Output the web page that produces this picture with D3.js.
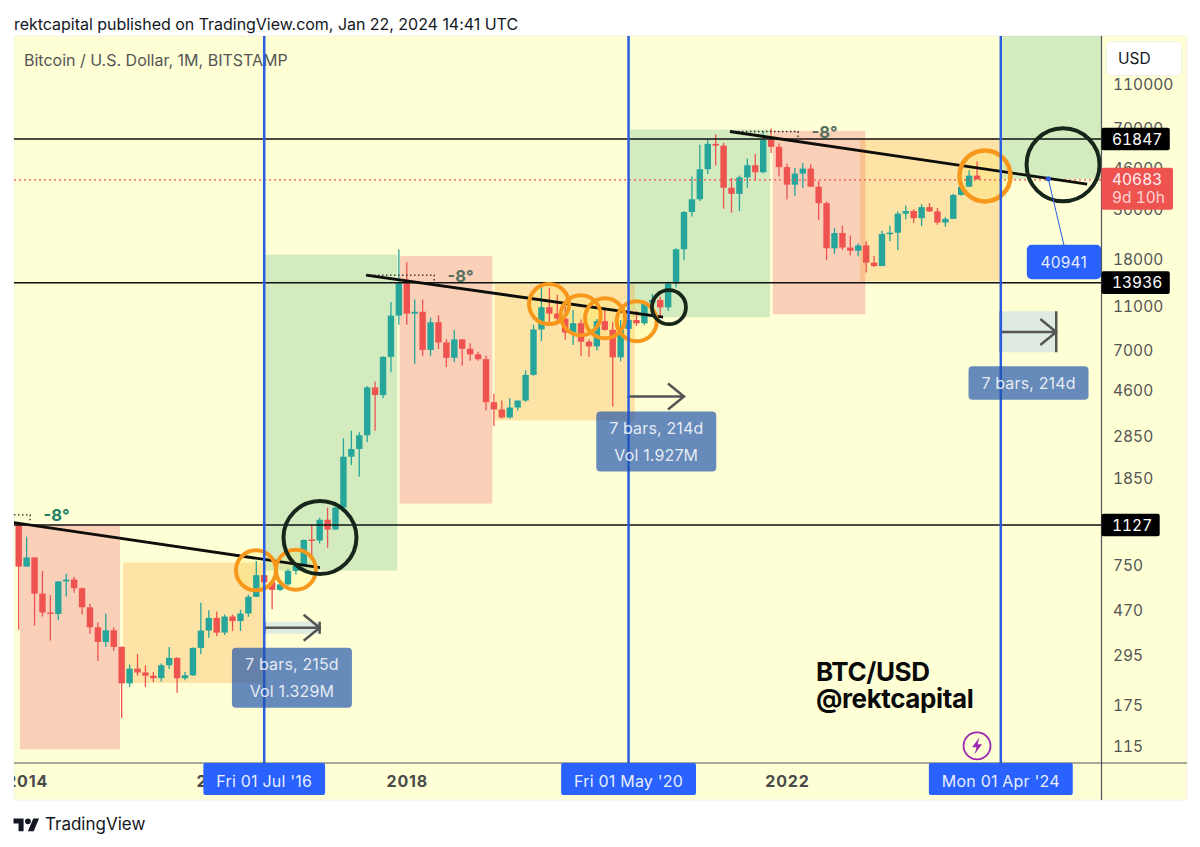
<!DOCTYPE html>
<html>
<head>
<meta charset="utf-8">
<script src="https://cdn.jsdelivr.net/npm/d3@7"></script>
<style>
  html, body { margin: 0; padding: 0; background: #fff; }
  svg { display: block; font-family: Inter, "Liberation Sans", sans-serif; }
</style>
</head>
<body>
<div id="main"></div>
<script>

// datas, one row per year, first bar is Dec 2013

const opens = [1127,
  732,805,553,455,448,628,640,585,480,390,335,378,
  318,218,254,244,236,230,263,284,230,237,315,377,
  430,369,436,416,450,535,670,622,575,609,700,740,
  970,960,1190,1075,1350,2290,2480,2860,4700,4340,6450,9900,
  13860,10100,10300,6930,9240,7490,6390,7730,7020,6620,6300,4030,
  3740,3440,3815,4100,5350,8570,10800,10100,9600,8300,9150,7550,
  7190,9350,8540,6420,8620,9450,9140,11340,11650,10780,13800,19700,
  29000,33100,45200,58800,57700,37300,35000,41500,47100,43800,61300,57000,
  46200,38500,43200,45500,37700,31800,19900,23300,20050,19400,20500,17150,
  16550,23100,23400,28500,29300,27200,30500,29200,26000,27000,34600,37700,
  42300];

const highs = [1163,
  999,805,700,545,628,680,659,590,498,410,450,390,
  320,265,296,263,245,268,318,286,245,316,503,465,
  460,445,445,468,547,775,700,625,612,715,745,970,
  1130,1215,1350,1360,2770,3000,2950,4750,5000,6500,11400,19666,
  17200,11700,11700,9700,9950,7750,8500,7760,7430,6800,6550,4400,
  4100,4200,4100,5610,9000,13880,13200,12300,10900,10500,9500,7750,
  9550,10500,9250,9450,10050,10400,11400,12400,12050,14100,19900,29300,
  41900,58300,61800,64900,59500,41300,42400,50500,52900,66900,69000,59000,
  47900,45800,48200,47500,40000,32300,24600,25200,22700,20900,21400,18400,
  23900,25200,29200,31000,29800,31400,31800,30200,27500,35000,38000,44700,
  49000];

const lows = [380,
  732,397,436,340,420,537,558,445,365,275,318,306,
  152,210,236,210,221,222,253,198,225,235,295,350,
  355,360,375,375,435,535,580,470,568,600,675,735,
  800,930,890,1070,1340,2100,1860,2660,3000,4200,5500,9000,
  9000,6000,6500,6500,7000,5800,6100,5900,6200,6200,3700,3150,
  3400,3400,3700,4050,5300,7600,9100,9300,7700,7300,6500,6450,
  6900,8450,3850,6150,8100,8900,8950,10500,9850,10400,13250,17600,
  27700,32500,43000,47000,30000,28800,29300,37300,40000,43300,53500,41900,
  33000,34300,37200,37600,26700,17600,18800,19600,18500,18300,15500,16400,
  16500,21400,19500,26900,25800,25000,29000,25400,24900,27000,34400,37600,
  40500];

const closes = [732,
  805,553,455,448,628,640,585,480,390,335,378,318,
  218,254,244,236,230,263,284,230,237,315,377,430,
  369,436,416,450,535,670,622,575,609,700,740,965,
  960,1190,1075,1350,2290,2480,2860,4700,4340,6450,9900,13860,
  10100,10300,6930,9240,7490,6390,7730,7020,6620,6300,4030,3740,
  3440,3815,4100,5350,8570,10800,10100,9600,8300,9150,7550,7190,
  9350,8540,6420,8620,9450,9140,11340,11650,10780,13800,19700,29000,
  33100,45200,58800,57700,37300,35000,41500,47100,43800,61300,57000,46200,
  38500,43200,45500,37700,31800,19900,23300,20050,19400,20500,17150,16550,
  23100,23400,28500,29300,27200,30500,29200,26000,27000,34600,37700,42300,
  40683];

const yearBars = [1, 25, 49, 97];
const yearLabels = ['2014', '2016', '2018', '2022'];
const priceTicks = [115, 175, 295, 470, 750, 1127, 1850, 2850, 4600, 7000, 11000, 18000, 30000, 46000, 70000, 110000];

const levels = [61847, 13936, 1127];
const lastPrice = 40683;
const lastCountdown = '9d 10h';

const dateBars = [31, 77, 124];
const dateLabels = ["Fri 01 Jul '16", "Fri 01 May '20", "Mon 01 Apr '24"];

// zones: [first bar, last bar, top price, bottom price]
const redZones = [[0.16, 12.8, 1127, 110], [48.1, 59.8, 18360, 1408], [95.2, 106.9, 67300, 10040]];
const orangeZones = [[13.17, 31, 763, 219], [60.1, 77.8, 13720, 3337], [106.2, 123.9, 61960, 14150]];
const greenZones = [[31.1, 47.8, 18630, 702], [77.2, 94.86, 68200, 9737], [124.2, 140, 200000, 40840]];

// trend lines: [start bar, start price, end bar, end price]
const trendLines = [[-7.16, 1251, 38.04, 724], [43.85, 15060, 81.35, 9737], [89.8, 66850, 134.9, 38760]];
const angleLabel = '-8°';
const angleBars = 8.6;

// circles: [bar, price]
const orangeCircles = [[29.96, 704], [35, 709], [66.96, 11150], [70.96, 9940], [74.03, 9636], [78.03, 9340]];
const orangeBigCircles = [[122, 42180]];
const blackCircles = [[38.04, 989], [131.86, 47300]];
const blackSmallCircles = [[82.1, 10800]];

// bars and price range measures
const measureStart = [31, 77, 124];
const measureBars = [7, 7, 7];
const measureMid = [388, 4280, 8356];
const measureTop = [413, 4325, 10360];
const measureBottom = [365, 4235, 6764];
const measureText = [['7 bars, 215d', 'Vol 1.329M'], ['7 bars, 214d', 'Vol 1.927M'], ['7 bars, 214d']];

const targetBar = 130;
const targetPrice = 40941;


const w = 1200;
const h = 847;

const plotL = 14;
const plotR = 1101.5;
const plotT = 36;
const plotB = 763;
const panelR = 1187;
const panelB = 800;

const svg = d3.select('#main').append('svg').attr('width', w).attr('height', h);

const x = d3.scaleLinear().domain([0, 124]).range([18.7, 1000.8]);
const y = d3.scaleLog().domain([115, 61847]).range([745, 139]);

const barIndex = opens.map((d, i) => i);

svg.append('clipPath').attr('id', 'plot')
  .append('rect').attr('x', plotL).attr('y', plotT).attr('width', plotR - plotL).attr('height', plotB - plotT);

// background

svg.append('text').attr('x', 14).attr('y', 30).attr('font-size', 16).attr('letter-spacing', -0.03).attr('fill', '#131722')
  .text('rektcapital published on TradingView.com, Jan 22, 2024 14:41 UTC');

svg.append('rect').attr('x', plotL).attr('y', plotT).attr('width', panelR - plotL).attr('height', panelB - plotT)
  .attr('fill', '#ffffd6').attr('stroke', '#f4f3e4');

// axes

const yAxis = d3.axisRight(y).tickValues(priceTicks).tickFormat(d => d).tickSize(0).tickPadding(11.5);
svg.append('g').attr('transform', `translate(${plotR},0)`).call(yAxis)
  .call(g => g.select('.domain').remove())
  .selectAll('text').attr('font-size', 15.5)
  .attr('font-family', 'Inter')
  .attr('dy', '0.4em').style('font-variant-numeric', 'tabular-nums').attr('fill', '#555');

const plot = svg.append('g').attr('clip-path', 'url(#plot)');

const zone = (list, color, alpha) => plot.append('g').selectAll('rect').data(list).enter().append('rect')
  .attr('x', d => x(d[0]))
  .attr('y', d => y(d[2]))
  .attr('width', d => x(d[1]) - x(d[0]))
  .attr('height', d => y(d[3]) - y(d[2]))
  .attr('fill', color)
  .attr('fill-opacity', alpha);

zone(redZones, 'rgb(239,67,98)', 0.25);
zone(greenZones, 'rgb(80,176,122)', 0.25);
zone(orangeZones, 'rgb(248,161,54)', 0.3);

plot.append('text').attr('x', 24).attr('y', 65.5).attr('font-size', 16).attr('fill', '#555')
  .text('Bitcoin / U.S. Dollar, 1M, BITSTAMP');

// circle fills go under the candles

const circleFills = (list, r) => plot.append('g').selectAll('circle').data(list).enter().append('circle')
  .attr('cx', d => x(d[0])).attr('cy', d => y(d[1])).attr('r', r)
  .attr('fill', 'rgba(255,235,59,0.18)');

circleFills(orangeCircles, 20);
circleFills(orangeBigCircles, 25.5);

// candles

const candleColor = i => closes[i] >= opens[i] ? '#26a69a' : '#ef5350';

plot.append('g').selectAll('line').data(barIndex).enter().append('line')
  .attr('x1', i => x(i)).attr('x2', i => x(i))
  .attr('y1', i => y(highs[i])).attr('y2', i => y(lows[i]))
  .attr('stroke', candleColor).attr('stroke-width', 1.3);

plot.append('g').selectAll('rect').data(barIndex).enter().append('rect')
  .attr('x', i => x(i) - 3.2)
  .attr('width', 6.4)
  .attr('y', i => y(Math.max(opens[i], closes[i])))
  .attr('height', i => Math.max(1.5, Math.abs(y(opens[i]) - y(closes[i]))))
  .attr('fill', candleColor);

// last price and horizontal levels

plot.append('line').attr('x1', plotL).attr('x2', plotR).attr('y1', y(lastPrice) + 0.5).attr('y2', y(lastPrice) + 0.5)
  .attr('stroke', '#f0524f').attr('stroke-width', 1.4).attr('stroke-dasharray', '2 3');

plot.append('g').selectAll('line').data(levels).enter().append('line')
  .attr('x1', plotL).attr('x2', plotR)
  .attr('y1', d => y(d)).attr('y2', d => y(d))
  .attr('stroke', '#111').attr('stroke-width', 1.5);

// trend lines with their angle

plot.append('g').selectAll('line').data(trendLines).enter().append('line')
  .attr('x1', d => x(d[0])).attr('y1', d => y(d[1]))
  .attr('x2', d => x(d[2])).attr('y2', d => y(d[3]))
  .attr('stroke', '#0d0d0a').attr('stroke-width', 2.8);

plot.append('g').selectAll('path').data(trendLines).enter().append('path')
  .attr('d', d => {
    const endX = x(d[0] + angleBars);
    return `M${x(d[0])},${y(d[1])}H${endX}v6`;
  })
  .attr('fill', 'none').attr('stroke', '#222').attr('stroke-width', 1.3).attr('stroke-dasharray', '1.5 2.5');

plot.append('g').selectAll('text').data(trendLines).enter().append('text')
  .attr('x', d => x(d[0] + angleBars) + 13.5)
  .attr('y', d => y(d[1]) + 6.5)
  .attr('font-size', 16.5).attr('font-weight', 700)
  .attr('fill', (d, i) => i === 0 ? '#1e8065' : '#55705f')
  .text(angleLabel);

// circles

const circles = (list, r, color, width) => plot.append('g').selectAll('circle').data(list).enter().append('circle')
  .attr('cx', d => x(d[0])).attr('cy', d => y(d[1])).attr('r', r)
  .attr('stroke', color).attr('stroke-width', width).attr('fill', 'none');

circles(orangeCircles, 20, '#f7981d', 4);
circles(orangeBigCircles, 25.5, '#f7981d', 4.5);
circles(blackCircles, 36.5, '#17261a', 4);
circles(blackSmallCircles, 17, '#17261a', 3.8);

// measures

const measures = plot.append('g').selectAll('g').data(measureStart).enter().append('g');

measures.append('rect')
  .attr('x', (d, i) => x(d))
  .attr('y', (d, i) => y(measureTop[i]))
  .attr('width', (d, i) => x(d + measureBars[i]) - x(d))
  .attr('height', (d, i) => y(measureBottom[i]) - y(measureTop[i]))
  .attr('fill', 'rgb(128,176,255)').attr('fill-opacity', 0.25);

measures.append('path')
  .attr('d', (d, i) => {
    const x0 = x(d);
    const x1 = x(d + measureBars[i]);
    const top = y(measureTop[i]);
    const bottom = y(measureBottom[i]);
    const mid = y(measureMid[i]);
    return `M${x0},${top}V${bottom}M${x0},${mid}H${x1}M${x1},${top}V${bottom}`
      + `M${x1 - 16},${mid - 13}L${x1},${mid}L${x1 - 16},${mid + 13}`;
  })
  .attr('fill', 'none').attr('stroke', '#555').attr('stroke-width', 2.5);

// blue date lines

plot.append('g').selectAll('line').data(dateBars).enter().append('line')
  .attr('x1', d => x(d)).attr('x2', d => x(d))
  .attr('y1', plotT).attr('y2', plotB)
  .attr('stroke', '#2a5ee0').attr('stroke-width', 2.5);

// measure labels stay above the blue lines

const measureLabels = svg.append('g').selectAll('g').data(measureStart).enter().append('g')
  .attr('transform', (d, i) => `translate(${x(d + measureBars[i] / 2)},${y(measureBottom[i]) + 14})`);

measureLabels.append('rect')
  .attr('x', -60).attr('width', 120)
  .attr('height', (d, i) => measureText[i].length === 2 ? 60 : 33.5)
  .attr('rx', 4)
  .attr('fill', 'rgba(30,83,171,0.68)');

measureLabels.selectAll('text').data((d, i) => measureText[i]).enter().append('text')
  .attr('text-anchor', 'middle')
  .attr('y', (d, i) => 22.5 + i * 27)
  .attr('font-size', 16).attr('letter-spacing', 0.15)
  .attr('fill', 'rgba(255,255,255,0.85)')
  .text(d => d);

// target price

const targetBox = svg.append('g');
targetBox.append('line')
  .attr('x1', x(targetBar)).attr('y1', y(targetPrice))
  .attr('x2', x(targetBar) + 16).attr('y2', y(targetPrice) + 68)
  .attr('stroke', '#2a5ee0').attr('stroke-width', 1);
targetBox.append('circle').attr('cx', x(targetBar)).attr('cy', y(targetPrice)).attr('r', 2.6).attr('fill', '#2a5ee0');
targetBox.append('rect')
  .attr('x', x(targetBar) - 21.5).attr('y', y(targetPrice) + 66)
  .attr('width', 74.5).attr('height', 34.5).attr('rx', 5).attr('fill', '#2962ff');
targetBox.append('text')
  .attr('x', x(targetBar) + 15.5).attr('y', y(targetPrice) + 89)
  .attr('text-anchor', 'middle').attr('font-size', 15.5).attr('letter-spacing', 0.2).attr('fill', 'rgba(255,255,255,0.9)')
  .text(targetPrice);

// signature

const signature = svg.append('g').attr('font-size', 26).attr('font-weight', 700).attr('fill', '#0a0a0a').attr('letter-spacing', -0.4);
signature.append('text').attr('x', 816).attr('y', 681).text('BTC/USD');
signature.append('text').attr('x', 816).attr('y', 708).text('@rektcapital');

// event marker

const marker = svg.append('g').attr('transform', `translate(${x(121)},${y(114)})`);
marker.append('circle').attr('r', 13.5).attr('fill', '#ffffd6').attr('stroke', '#9c27b0').attr('stroke-width', 1.8);
marker.append('path').attr('d', 'M2.5,-8.5L-5,1.5H-0.5L-2.5,8.5L5,-1.5H0.5Z').attr('fill', '#9c27b0');

// axis lines and time axis

svg.append('line').attr('x1', plotR).attr('x2', plotR).attr('y1', plotT).attr('y2', panelB).attr('stroke', '#50535e').attr('stroke-width', 1.2);
svg.append('line').attr('x1', plotL).attr('x2', panelR).attr('y1', plotB).attr('y2', plotB).attr('stroke', '#50535e').attr('stroke-width', 1.2);

svg.append('clipPath').attr('id', 'timeAxis')
  .append('rect').attr('x', plotL).attr('y', plotB).attr('width', plotR - plotL).attr('height', panelB - plotB);

const xAxis = d3.axisBottom(x).tickValues(yearBars).tickFormat((d, i) => yearLabels[i]).tickSize(0).tickPadding(13);
svg.append('g').attr('clip-path', 'url(#timeAxis)').append('g').attr('transform', `translate(0,${plotB})`).call(xAxis)
  .call(g => g.select('.domain').remove())
  .selectAll('text').attr('font-size', 16).attr('font-family', 'Inter').attr('font-weight', 700).attr('letter-spacing', 0.8).attr('fill', '#4a4a4a');

const dateTags = svg.append('g').selectAll('g').data(dateBars).enter().append('g');
const dateTagText = dateTags.append('text')
  .attr('x', d => x(d)).attr('y', 787)
  .attr('text-anchor', 'middle').attr('font-size', 16).attr('letter-spacing', 0.2).attr('fill', 'rgba(255,255,255,0.92)')
  .text((d, i) => dateLabels[i]);
dateTags.insert('rect', 'text')
  .attr('x', function (d) { return x(d) - this.parentNode.querySelector('text').getComputedTextLength() / 2 - 13; })
  .attr('width', function () { return this.parentNode.querySelector('text').getComputedTextLength() + 26; })
  .attr('y', plotB).attr('height', 32).attr('rx', 2).attr('fill', '#2962ff');

// price tags

const levelTags = svg.append('g').selectAll('g').data(levels).enter().append('g')
  .attr('transform', d => `translate(${plotR},${y(d)})`);
levelTags.append('text')
  .attr('x', 10.5).attr('y', 5.8).attr('font-size', 15.5).style('font-variant-numeric', 'tabular-nums').attr('fill', '#fff')
  .text(d => d);
levelTags.insert('rect', 'text')
  .attr('y', -11.3).attr('height', 22.6).attr('rx', 2).attr('fill', '#000')
  .attr('width', function () { return this.parentNode.querySelector('text').getComputedTextLength() + 18; });

const lastTag = svg.append('g').attr('transform', `translate(${plotR},${y(lastPrice) - 11.5})`).attr('font-size', 15.5).style('font-variant-numeric', 'tabular-nums');
lastTag.append('rect').attr('width', 71.5).attr('height', 42).attr('rx', 2).attr('fill', '#ef5350');
lastTag.append('text').attr('x', 10.5).attr('y', 17).attr('fill', 'rgba(255,255,255,0.92)').text(lastPrice);
lastTag.append('text').attr('x', 10.5).attr('y', 35).attr('fill', 'rgba(255,255,255,0.75)').text(lastCountdown);

// currency button

svg.append('rect').attr('x', 1106.5).attr('y', 41.5).attr('width', 75).attr('height', 34).attr('rx', 5)
  .attr('fill', '#fff').attr('stroke', '#f0f0e4');
svg.append('text').attr('x', 1118).attr('y', 64).attr('font-size', 15.5).attr('fill', '#131722').text('USD');

// logo

const logo = svg.append('g').attr('transform', 'translate(13.5,815.5) scale(0.72)').attr('fill', '#131722');
logo.append('path').attr('d', 'M14 22H7V11H0V4h14v18zM28 22h-8l7.5-18h8L28 22z');
logo.append('circle').attr('cx', 20).attr('cy', 8).attr('r', 4);
svg.append('text').attr('x', 45).attr('y', 830).attr('font-size', 17).attr('fill', '#131722').text('TradingView');

</script>
</body>
</html>
